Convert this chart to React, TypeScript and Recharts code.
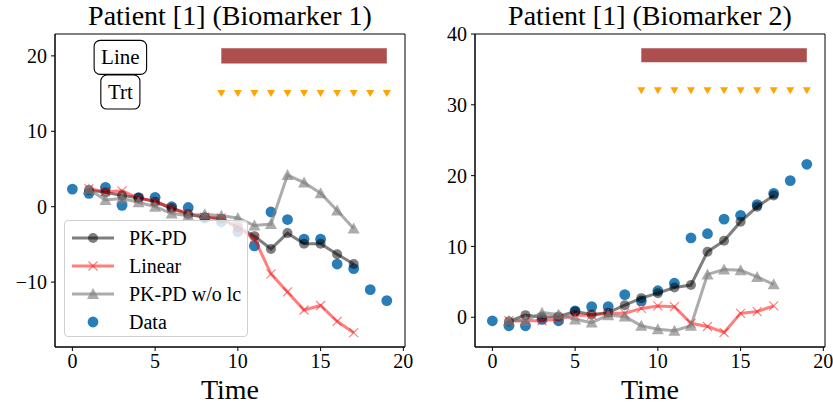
import { useLayoutEffect, useRef, useState } from 'react';
import {
  ComposedChart,
  Line,
  ReferenceArea,
  Scatter,
  XAxis,
  YAxis,
  Label,
} from 'recharts';

const FONT = '"Liberation Serif", "DejaVu Serif", serif';

// observation times and model fit times
const time = [0, 1, 2, 3, 4, 5, 6, 7, 8, 9, 10, 11, 12, 13, 14, 15, 16, 17, 18, 19];
const fitTime = [1, 2, 3, 4, 5, 6, 7, 8, 9, 10, 11, 12, 13, 14, 15, 16, 17];
const doseTime = [9, 10, 11, 12, 13, 14, 15, 16, 17, 18, 19];
const xTicks = [0, 5, 10, 15, 20];
const xDomain = [-1.05, 20.1];

// biomarker 1
const b1Data = [2.34, 1.77, 2.56, 0.18, 1.2, 1.24, 0.0, -0.1, -1.5, -2.0, -3.3, -5.2, -0.7, -1.7, -4.3, -4.3, -7.6, -8.2, -11.0, -12.45];
const b1Pkpd = [2.2, 1.9, 1.5, 1.2, 0.66, -0.2, -1.0, -1.4, -1.6, -2.7, -3.9, -5.6, -3.5, -4.9, -4.9, -6.3, -7.6];
const b1Linear = [2.4, 2.0, 2.1, 1.1, 0.75, -0.2, -0.9, -1.4, -1.5, -2.9, -4.2, -8.9, -11.3, -13.7, -13.1, -15.2, -16.7];
const b1NoLc = [2.3, 0.9, 1.1, 0.6, 0.0, -0.9, -1.2, -1.0, -1.2, -1.5, -2.5, -2.3, 4.2, 3.2, 1.8, -0.5, -2.9];
const b1Ticks = [-10, 0, 10, 20];
const b1Domain = [-18.6, 22.9];
const b1LineY = 20;
const b1TrtY = 15;

// biomarker 2
const b2Data = [-0.5, -1.2, -1.2, -0.3, -0.5, 0.9, 1.5, 1.5, 3.2, 2.3, 3.75, 4.8, 11.2, 11.8, 13.85, 14.4, 15.9, 17.5, 19.3, 21.6];
const b2Pkpd = [-0.6, 0.3, 0.0, 0.1, 0.8, 0.4, 0.65, 1.7, 2.7, 3.4, 4.2, 4.55, 9.25, 10.8, 13.5, 15.6, 17.2];
const b2Linear = [-0.5, -0.5, -0.5, -0.25, 0.3, 0.3, 0.55, 0.55, 1.25, 1.6, 1.5, -0.85, -1.3, -2.15, 0.55, 0.8, 1.6];
const b2NoLc = [-0.5, -0.5, 0.65, 0.4, -0.3, -0.75, 0.3, 0.1, -1.2, -1.7, -1.9, -1.2, 6.05, 6.75, 6.65, 5.7, 4.65];
const b2Ticks = [0, 10, 20, 30, 40];
const b2Domain = [-4.2, 40];
const b2LineY = 37;
const b2TrtY = 32;

// text boxes (left panel only)
const boxText = ['Line', 'Trt'];
const boxT = [2.9, 2.9];
const boxY = [19.8, 15.2];

const zip = (ts: number[], ys: number[]) => ts.map((t, i) => ({ t, y: ys[i] }));
const fmt = (v: number) => (v < 0 ? `\u2212${-v}` : `${v}`);

const dotCircle = (p: any) =>
  p.cx == null ? null : <circle key={p.index} cx={p.cx} cy={p.cy} r={5} fill="#000" fillOpacity={0.5} />;
const dotCross = (p: any) =>
  p.cx == null ? null : (
    <path
      key={p.index}
      d={`M${p.cx - 4.5},${p.cy - 4.5}L${p.cx + 4.5},${p.cy + 4.5}M${p.cx - 4.5},${p.cy + 4.5}L${p.cx + 4.5},${p.cy - 4.5}`}
      stroke="#ff0000"
      strokeOpacity={0.5}
      strokeWidth={1.2}
      fill="none"
    />
  );
const dotTri = (p: any) =>
  p.cx == null ? null : (
    <path
      key={p.index}
      d={`M${p.cx},${p.cy - 6}L${p.cx + 6},${p.cy + 5}L${p.cx - 6},${p.cy + 5}Z`}
      fill="#808080"
      fillOpacity={0.65}
    />
  );
const dataDot = (p: any) => <circle cx={p.cx} cy={p.cy} r={5.4} fill="#1f77b4" fillOpacity={0.95} />;
const doseMark = (p: any) => (
  <path d={`M${p.cx - 4},${p.cy - 3.5}L${p.cx + 4},${p.cy - 3.5}L${p.cx},${p.cy + 3.5}Z`} fill="#ffa500" />
);

function TextBox(p: any) {
  const ref = useRef<SVGTextElement>(null);
  const [w, setW] = useState(40);
  useLayoutEffect(() => {
    if (ref.current) setW(ref.current.getBBox().width);
  }, []);
  const bw = w + 14;
  const bh = 34;
  return (
    <g>
      <rect x={p.cx - bw / 2} y={p.cy - bh / 2} width={bw} height={bh} rx={6} fill="#fff" stroke="#000" strokeWidth={1.1} />
      <text ref={ref} x={p.cx} y={p.cy + 7} textAnchor="middle" fontSize={21} fontFamily={FONT} fill="#000">
        {p.payload.label}
      </text>
    </g>
  );
}

function Panel(props: {
  title: string;
  left: number;
  data: number[];
  pkpd: number[];
  linear: number[];
  noLc: number[];
  domain: number[];
  ticks: number[];
  lineY: number;
  trtY: number;
  boxes?: boolean;
}) {
  const tick = { fontSize: 20, fill: '#000', fontFamily: FONT };
  return (
    <div style={{ position: 'absolute', left: props.left, top: 0, width: 420, height: 405 }}>
      <div
        style={{
          position: 'absolute',
          left: 55,
          width: 350,
          top: 0,
          textAlign: 'center',
          fontSize: 28,
          lineHeight: '31px',
          fontFamily: FONT,
          color: '#000',
          whiteSpace: 'nowrap',
        }}
      >
        {props.title}
      </div>
      <ComposedChart width={420} height={405} margin={{ top: 34, right: 15, bottom: 0, left: 0 }}>
        <XAxis
          dataKey="t"
          type="number"
          domain={xDomain}
          ticks={xTicks}
          allowDataOverflow
          height={58}
          tick={tick}
          tickSize={4}
          tickMargin={3}
          axisLine={{ stroke: '#000' }}
          tickLine={{ stroke: '#000' }}
        >
          <Label value="Time" position="insideBottom" offset={6} style={{ fontSize: 28, fontFamily: FONT, fill: '#000' }} />
        </XAxis>
        <YAxis
          dataKey="y"
          type="number"
          domain={props.domain}
          ticks={props.ticks}
          allowDataOverflow
          width={55}
          tick={tick}
          tickSize={4}
          tickMargin={4}
          tickFormatter={fmt}
          axisLine={{ stroke: '#000' }}
          tickLine={{ stroke: '#000' }}
        />
        <ReferenceArea
          x1={xDomain[0]}
          x2={xDomain[1]}
          y1={props.domain[0]}
          y2={props.domain[1]}
          fill="none"
          fillOpacity={0}
          stroke="#000"
          strokeWidth={1}
        />
        <ReferenceArea
          x1={doseTime[0]}
          x2={doseTime[doseTime.length - 1]}
          y1={props.lineY - 1}
          y2={props.lineY + 1}
          fill="#ad4f4f"
          fillOpacity={1}
          stroke="none"
        />
        <Scatter
          data={doseTime.map((t) => ({ t, y: props.trtY }))}
          shape={doseMark}
          isAnimationActive={false}
        />
        <Scatter data={zip(time, props.data)} shape={dataDot} isAnimationActive={false} zIndex={350} />
        <Line
          data={zip(fitTime, props.pkpd)}
          dataKey="y"
          type="linear"
          stroke="#000"
          strokeOpacity={0.5}
          strokeWidth={3}
          dot={dotCircle}
          activeDot={false}
          isAnimationActive={false}
        />
        <Line
          data={zip(fitTime, props.linear)}
          dataKey="y"
          type="linear"
          stroke="#ff0000"
          strokeOpacity={0.5}
          strokeWidth={3}
          dot={dotCross}
          activeDot={false}
          isAnimationActive={false}
        />
        <Line
          data={zip(fitTime, props.noLc)}
          dataKey="y"
          type="linear"
          stroke="#808080"
          strokeOpacity={0.65}
          strokeWidth={3}
          dot={dotTri}
          activeDot={false}
          isAnimationActive={false}
        />
        {props.boxes && (
          <Scatter
            data={boxText.map((label, i) => ({ t: boxT[i], y: boxY[i], label }))}
            shape={(p: any) => <TextBox {...p} />}
            isAnimationActive={false}
          />
        )}
      </ComposedChart>
    </div>
  );
}

const legendItems = [
  { name: 'PK-PD', kind: 'circle' },
  { name: 'Linear', kind: 'cross' },
  { name: 'PK-PD w/o lc', kind: 'tri' },
  { name: 'Data', kind: 'data' },
];

function LegendSample({ kind }: { kind: string }) {
  return (
    <svg width={44} height={20} style={{ display: 'block' }}>
      {kind === 'circle' && (
        <>
          <line x1={1} y1={10} x2={43} y2={10} stroke="#000" strokeOpacity={0.5} strokeWidth={3} />
          <circle cx={22} cy={10} r={5} fill="#000" fillOpacity={0.5} />
        </>
      )}
      {kind === 'cross' && (
        <>
          <line x1={1} y1={10} x2={43} y2={10} stroke="#ff0000" strokeOpacity={0.5} strokeWidth={3} />
          <path d="M17.5,5.5L26.5,14.5M17.5,14.5L26.5,5.5" stroke="#ff0000" strokeOpacity={0.5} strokeWidth={1.2} />
        </>
      )}
      {kind === 'tri' && (
        <>
          <line x1={1} y1={10} x2={43} y2={10} stroke="#808080" strokeOpacity={0.65} strokeWidth={3} />
          <path d="M22,4L28,15L16,15Z" fill="#808080" fillOpacity={0.65} />
        </>
      )}
      {kind === 'data' && <circle cx={22} cy={10} r={5.4} fill="#1f77b4" fillOpacity={0.95} />}
    </svg>
  );
}

export default function App() {
  return (
    <div style={{ position: 'relative', width: 833, height: 405, overflow: 'hidden', background: '#fff' }}>
      <style>{'body{margin:0}'}</style>
      <Panel
        title="Patient [1] (Biomarker 1)"
        left={0}
        data={b1Data}
        pkpd={b1Pkpd}
        linear={b1Linear}
        noLc={b1NoLc}
        domain={b1Domain}
        ticks={b1Ticks}
        lineY={b1LineY}
        trtY={b1TrtY}
        boxes
      />
      <Panel
        title="Patient [1] (Biomarker 2)"
        left={420}
        data={b2Data}
        pkpd={b2Pkpd}
        linear={b2Linear}
        noLc={b2NoLc}
        domain={b2Domain}
        ticks={b2Ticks}
        lineY={b2LineY}
        trtY={b2TrtY}
      />
      <div
        style={{
          position: 'absolute',
          left: 64,
          top: 220,
          width: 184,
          height: 117,
          boxSizing: 'border-box',
          background: 'rgba(255,255,255,0.8)',
          border: '1px solid #d0d0d0',
          borderRadius: 4,
          fontFamily: FONT,
          fontSize: 20,
          paddingTop: 3,
        }}
      >
        {legendItems.map((it) => (
          <div key={it.name} style={{ display: 'flex', alignItems: 'center', height: 28, paddingLeft: 6 }}>
            <LegendSample kind={it.kind} />
            <span style={{ marginLeft: 14, lineHeight: '20px' }}>{it.name}</span>
          </div>
        ))}
      </div>
    </div>
  );
}
